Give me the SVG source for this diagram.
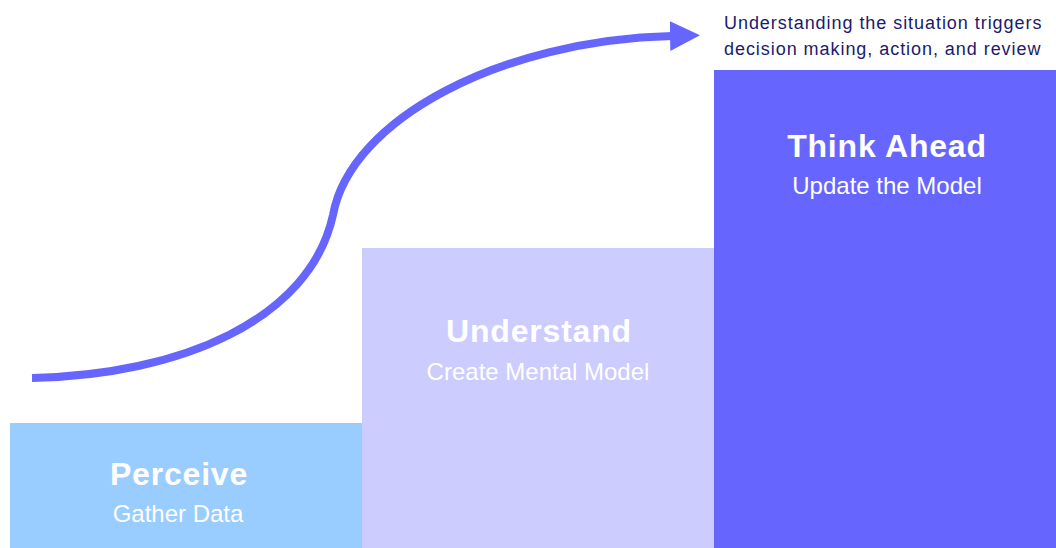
<svg xmlns="http://www.w3.org/2000/svg" width="1056" height="548" viewBox="0 0 1056 548">
<style>
.title{font-family:"Liberation Sans",Arial,sans-serif;font-weight:bold;font-size:32px;fill:#ffffff;letter-spacing:0.8px;text-anchor:middle}
.sub{font-family:"Liberation Sans",Arial,sans-serif;font-size:24px;fill:#ffffff;text-anchor:middle}
.note{font-family:"Liberation Sans",Arial,sans-serif;font-size:18px;fill:#1a1a6e;letter-spacing:0.95px}
</style>
<defs>
<marker id="head" markerUnits="userSpaceOnUse" markerWidth="32" markerHeight="32" refX="2" refY="16" orient="auto" viewBox="0 0 32 32">
<polygon points="0,1 30,16 0,31" fill="#6666FF"/>
</marker>
</defs>
<rect x="0" y="0" width="1056" height="548" fill="#ffffff"/>
<g id="perceive">
<rect x="10" y="423" width="352" height="125" fill="#99CCFF"/>
<text class="title" x="179" y="485">Perceive</text>
<text class="sub" x="178" y="522">Gather Data</text>
</g>
<g id="understand">
<rect x="362" y="248" width="352" height="300" fill="#CCCCFF"/>
<text class="title" x="539" y="342">Understand</text>
<text class="sub" x="538" y="380">Create Mental Model</text>
</g>
<g id="think-ahead">
<rect x="714" y="70" width="342" height="478" fill="#6666FF"/>
<text class="title" x="887" y="157">Think Ahead</text>
<text class="sub" x="887" y="194">Update the Model</text>
</g>
<g id="connectors">
<path d="M32,378 C180,375 310,320 333,215 C350,120 500,40 672,36" fill="none" stroke="#6666FF" stroke-width="8" marker-end="url(#head)"/>
</g>
<g id="note">
<text class="note" x="724" y="29">Understanding the situation triggers</text>
<text class="note" x="724" y="55">decision making, action, and review</text>
</g>
</svg>
